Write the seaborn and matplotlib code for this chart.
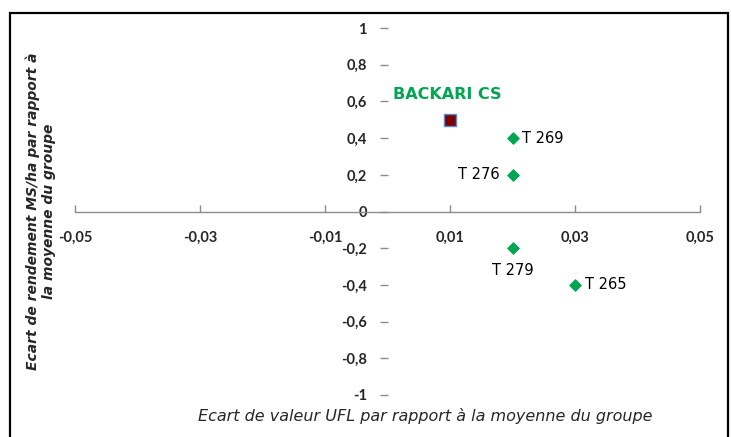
import matplotlib.pyplot as plt
import pandas as pd
import seaborn as sns
from matplotlib.patches import Rectangle

# ── Data ──────────────────────────────────────────────────────────────────────
names     = ["T 269", "T 276", "T 279", "T 265"]
ufl_ecart = [0.02, 0.02, 0.02, 0.03]
rdt_ecart = [0.4, 0.2, -0.2, -0.4]

ref_name = "BACKARI CS"
ref_ufl  = [0.01]
ref_rdt  = [0.5]

x_ticks = [-0.05, -0.03, -0.01, 0.01, 0.03, 0.05]
y_ticks = [-1, -0.8, -0.6, -0.4, -0.2, 0, 0.2, 0.4, 0.6, 0.8, 1]

x_title = "Ecart de valeur UFL par rapport à la moyenne du groupe"
y_title = "Ecart de rendement MS/ha par rapport à\nla moyenne du groupe"

# label placement (offset points, ha, va)
label_pos = {
    "T 269": ((7, 0), "left", "center"),
    "T 276": ((-9, 0), "right", "center"),
    "T 279": ((0, -11), "center", "top"),
    "T 265": ((7, 0), "left", "center"),
}

GREEN = "#00A651"
GREY  = "#8C8C8C"


def fmt(v):
    return f"{v:g}".replace(".", ",")


# ── Figure ────────────────────────────────────────────────────────────────────
sns.set_style("white")
plt.rcParams["font.family"] = ["Lato", "DejaVu Sans"]

fig = plt.figure(figsize=(7.31, 4.37), dpi=100)
ax = fig.add_axes([75 / 731, 1 - 395 / 437, 625 / 731, 367 / 437])

df = pd.DataFrame({"name": names, "ufl": ufl_ecart, "rdt": rdt_ecart})
sns.scatterplot(data=df, x="ufl", y="rdt", ax=ax, marker="D", s=34,
                color=GREEN, edgecolor=GREEN, linewidth=0.8, zorder=3)

ref_df = pd.DataFrame({"ufl": ref_ufl, "rdt": ref_rdt})
sns.scatterplot(data=ref_df, x="ufl", y="rdt", ax=ax, marker="s", s=70,
                color="#7F0000", edgecolor="#5B8BD0", linewidth=1.0, zorder=3)

for n, xv, yv in zip(names, ufl_ecart, rdt_ecart):
    off, ha, va = label_pos[n]
    ax.annotate(n, (xv, yv), xytext=off, textcoords="offset points",
                ha=ha, va=va, fontsize=10.5, color="black",
                family="DejaVu Sans")

ax.annotate(ref_name, (ref_ufl[0], ref_rdt[0]), xytext=(-2, 13),
            textcoords="offset points", ha="center", va="bottom",
            fontsize=11.5, fontweight="bold", color=GREEN,
            family="DejaVu Sans")

ax.set_xlim(-0.05, 0.05)
ax.set_ylim(-1, 1)
ax.set_xticks(x_ticks)
ax.set_xticklabels([fmt(v) for v in x_ticks])
ax.set_yticks(y_ticks)
ax.set_yticklabels([fmt(v) for v in y_ticks])

for side in ["top", "right", "left"]:
    ax.spines[side].set_visible(False)
ax.spines["bottom"].set_position(("data", 0))
ax.spines["bottom"].set_color(GREY)
ax.spines["bottom"].set_linewidth(1.0)
ax.spines["left"].set_position(("data", 0))

ax.tick_params(axis="x", bottom=True, direction="in", length=5, width=1,
               color=GREY, pad=14, labelsize=10.5)
ax.tick_params(axis="y", left=True, direction="out", length=6, width=1,
               color=GREY, pad=9, labelsize=10.5)
for lab in ax.get_xticklabels() + ax.get_yticklabels():
    lab.set_fontweight("bold")

ax.set_xlabel(x_title, fontsize=11.5, fontstyle="italic", family="DejaVu Sans")
ax.xaxis.set_label_coords(0.56, -0.035)
ax.set_ylabel(y_title, fontsize=10, fontstyle="italic", fontweight="bold",
              multialignment="center", family="DejaVu Sans",
              linespacing=1.2)
ax.yaxis.set_label_coords(-0.03, 0.5)

fig.patches.append(Rectangle((10 / 731, -0.1), 718 / 731, 1 - 13 / 437 + 0.1,
                             transform=fig.transFigure, fill=False,
                             edgecolor="black", linewidth=1.6))

fig.savefig("out.png", dpi=100)
